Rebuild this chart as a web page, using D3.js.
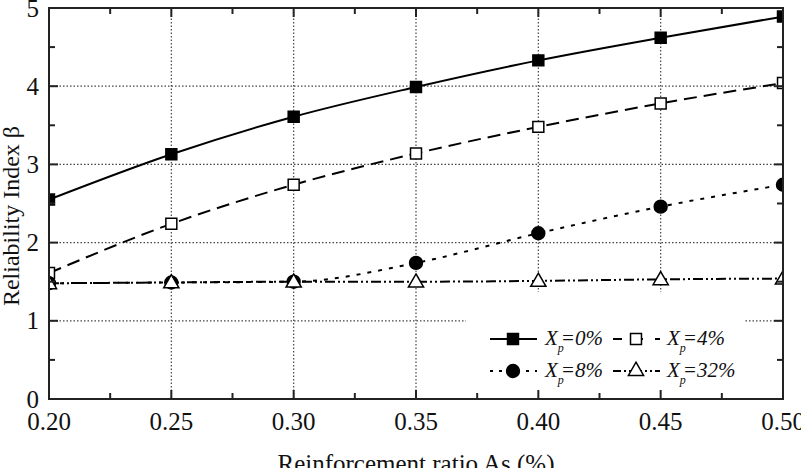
<!DOCTYPE html>
<html>
<head>
<meta charset="utf-8">
<script src="https://cdn.jsdelivr.net/npm/d3@7"></script>
<style>
  body { margin: 0; background: #fff; }
  svg { display: block; }
</style>
</head>
<body>
<svg id="chart" width="801" height="468"></svg>
<script>
// Reinforcement ratio (%) on the x axis
const ratios = [0.20, 0.25, 0.30, 0.35, 0.40, 0.45, 0.50];

// Reliability index for each corrosion level
const beta0 = [2.55, 3.13, 3.61, 3.99, 4.33, 4.62, 4.89];
const beta4 = [1.61, 2.24, 2.74, 3.14, 3.48, 3.78, 4.04];
const beta8 = [1.48, 1.49, 1.50, 1.74, 2.12, 2.46, 2.74];
const beta32 = [1.48, 1.49, 1.50, 1.50, 1.51, 1.53, 1.54];

const seriesNames = ['0%', '4%', '8%', '32%'];

const xTicks = [0.20, 0.25, 0.30, 0.35, 0.40, 0.45, 0.50];
const yTicks = [0, 1, 2, 3, 4, 5];

const FONT = 'Liberation Serif';
const pLeft = 49, pRight = 783, pTop = 8, pBottom = 399;

const svg = d3.select('#chart');

const x = d3.scaleLinear().domain([0.20, 0.50]).range([pLeft, pRight]);
const y = d3.scaleLinear().domain([0, 5]).range([pBottom, pTop]);

// clip for the markers at the frame edges
svg.append('defs').append('clipPath').attr('id', 'plot-clip')
    .append('rect')
    .attr('x', pLeft).attr('y', pTop)
    .attr('width', pRight - pLeft).attr('height', pBottom - pTop);

// dotted grid on the inner major ticks
const grid = svg.append('g');
grid.selectAll('.vgrid')
    .data(xTicks.slice(1, -1))
    .enter().append('line')
    .attr('x1', d => x(d)).attr('x2', d => x(d))
    .attr('y1', pTop).attr('y2', pBottom)
    .attr('stroke', '#444').attr('stroke-width', 1.2)
    .attr('stroke-dasharray', '1.5,2');
grid.selectAll('.hgrid')
    .data(yTicks.slice(1, -1))
    .enter().append('line')
    .attr('x1', pLeft).attr('x2', pRight)
    .attr('y1', d => y(d)).attr('y2', d => y(d))
    .attr('stroke', '#444').attr('stroke-width', 1.2)
    .attr('stroke-dasharray', '1.5,2');

const series = [
    { values: beta0, dash: null, marker: 'square', fill: '#000' },
    { values: beta4, dash: '13,7', marker: 'square', fill: '#fff' },
    { values: beta8, dash: '4,7', marker: 'circle', fill: '#000' },
    { values: beta32, dash: '10,3,2,3,2,3', marker: 'triangle', fill: '#fff' }
];

const symbolFor = function(m) {
    if (m === 'square') return d3.symbol().type(d3.symbolSquare).size(120);
    if (m === 'circle') return d3.symbol().type(d3.symbolCircle).size(130);
    return d3.symbol().type(d3.symbolTriangle).size(100);
};

const line = d3.line()
    .x((d, i) => x(ratios[i]))
    .y(d => y(d))
    .curve(d3.curveMonotoneX);

const plot = svg.append('g').attr('clip-path', 'url(#plot-clip)');

series.forEach(s => {
    plot.append('path')
        .datum(s.values)
        .attr('d', line)
        .attr('fill', 'none')
        .attr('stroke', '#000')
        .attr('stroke-width', 2)
        .attr('stroke-dasharray', s.dash);
});

series.forEach(s => {
    plot.selectAll(null)
        .data(s.values)
        .enter().append('path')
        .attr('d', symbolFor(s.marker))
        .attr('transform', (d, i) => `translate(${x(ratios[i])},${y(d) + (s.marker === 'triangle' ? 1 : 0)})`)
        .attr('fill', s.fill)
        .attr('stroke', '#000')
        .attr('stroke-width', 1.5);
});

// legend, white box over the grid
const legend = svg.append('g');
legend.append('rect')
    .attr('x', 466).attr('y', 292)
    .attr('width', 278).attr('height', pBottom - 292)
    .attr('fill', '#fff');

const legendPos = [
    { lx: 490, ly: 339, tx: 545 },
    { lx: 613, ly: 339, tx: 667 },
    { lx: 490, ly: 371, tx: 545 },
    { lx: 613, ly: 371, tx: 667 }
];

series.forEach((s, i) => {
    const p = legendPos[i];
    legend.append('line')
        .attr('x1', p.lx).attr('x2', p.lx + 47)
        .attr('y1', p.ly).attr('y2', p.ly)
        .attr('stroke', '#000').attr('stroke-width', 2)
        .attr('stroke-dasharray', i === 1 ? '9,12' : i === 2 ? '3,6' : i === 3 ? '8,3,2,3,2,3' : null);
    legend.append('path')
        .attr('d', symbolFor(s.marker))
        .attr('transform', `translate(${p.lx + 23},${p.ly})`)
        .attr('fill', s.fill)
        .attr('stroke', '#000')
        .attr('stroke-width', 1.5);
    const t = legend.append('text')
        .attr('x', p.tx).attr('y', p.ly + 6)
        .style('font-family', FONT)
        .attr('font-size', 21)
        .attr('font-style', 'italic')
        .attr('fill', '#111');
    t.append('tspan').text('X');
    t.append('tspan').attr('font-size', 12).attr('dy', 7).text('p');
    t.append('tspan').attr('dy', -7).attr('dx', -3).text('=' + seriesNames[i]);
});

// frame and ticks
const frame = svg.append('g');
frame.append('rect')
    .attr('x', pLeft).attr('y', pTop)
    .attr('width', pRight - pLeft).attr('height', pBottom - pTop)
    .attr('fill', 'none')
    .attr('stroke', '#222').attr('stroke-width', 2);

const xMinor = d3.range(0.225, 0.5, 0.05);
const yMinor = d3.range(0.5, 5, 1);

function xTickMarks(vals, len) {
    vals.forEach(v => {
        frame.append('line').attr('x1', x(v)).attr('x2', x(v))
            .attr('y1', pBottom).attr('y2', pBottom - len)
            .attr('stroke', '#222').attr('stroke-width', 2);
        frame.append('line').attr('x1', x(v)).attr('x2', x(v))
            .attr('y1', pTop).attr('y2', pTop + len)
            .attr('stroke', '#222').attr('stroke-width', 2);
    });
}
function yTickMarks(vals, len) {
    vals.forEach(v => {
        frame.append('line').attr('x1', pLeft).attr('x2', pLeft + len)
            .attr('y1', y(v)).attr('y2', y(v))
            .attr('stroke', '#222').attr('stroke-width', 2);
        frame.append('line').attr('x1', pRight).attr('x2', pRight - len)
            .attr('y1', y(v)).attr('y2', y(v))
            .attr('stroke', '#222').attr('stroke-width', 2);
    });
}
xTickMarks(xTicks, 9);
xTickMarks(xMinor, 6);
yTickMarks(yTicks, 9);
yTickMarks(yMinor, 6);

// tick labels
svg.selectAll('.xl')
    .data(xTicks)
    .enter().append('text')
    .attr('x', d => x(d))
    .attr('y', 430)
    .attr('text-anchor', 'middle')
    .style('font-family', FONT)
    .attr('font-size', 25)
    .attr('fill', '#111')
    .text(d => d3.format('.2f')(d));

svg.selectAll('.yl')
    .data(yTicks)
    .enter().append('text')
    .attr('x', 39)
    .attr('y', d => y(d) + 8.5)
    .attr('text-anchor', 'end')
    .style('font-family', FONT)
    .attr('font-size', 25)
    .attr('fill', '#111')
    .text(d => d);

// axis titles
svg.append('text')
    .attr('x', 416).attr('y', 472)
    .attr('text-anchor', 'middle')
    .style('font-family', FONT)
    .attr('font-size', 25)
    .attr('fill', '#111')
    .text('Reinforcement ratio As (%)');

svg.append('text')
    .attr('transform', 'translate(19,216) rotate(-90)')
    .attr('text-anchor', 'middle')
    .style('font-family', FONT)
    .attr('font-size', 24)
    .attr('fill', '#111')
    .text('Reliability Index β');
</script>
</body>
</html>
